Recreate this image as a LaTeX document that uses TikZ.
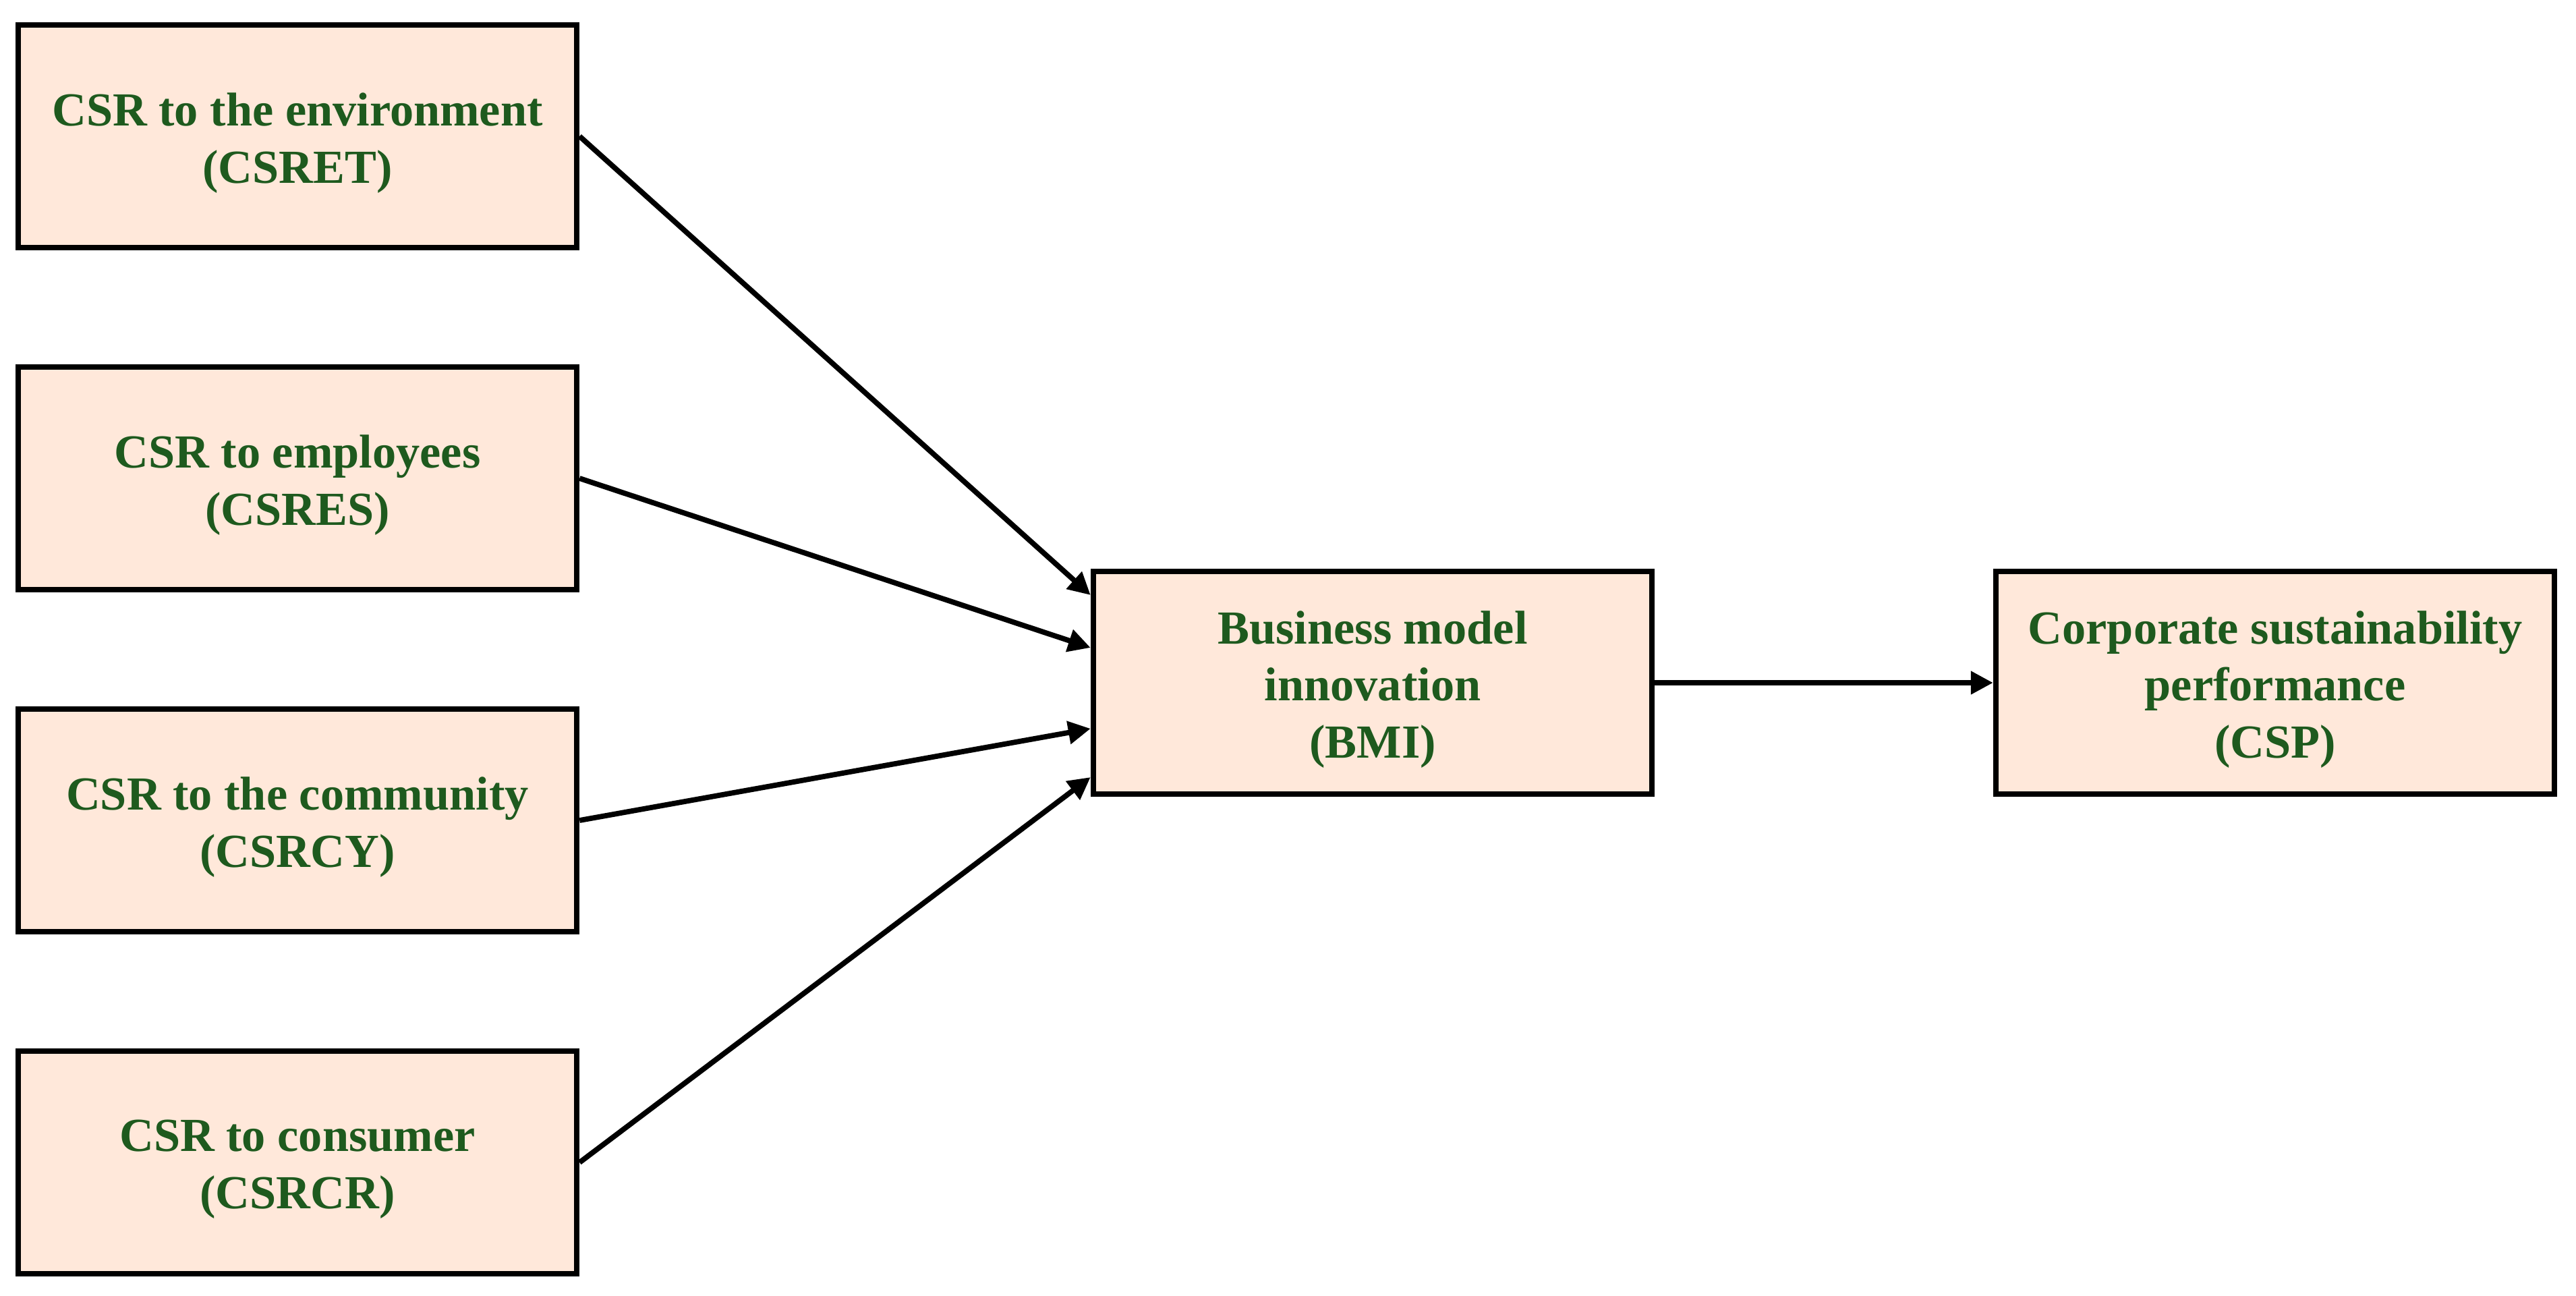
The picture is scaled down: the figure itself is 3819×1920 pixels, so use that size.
\documentclass[tikz,border=0pt]{standalone}
\usepackage{fontspec}
\setmainfont{Liberation Serif}
\usetikzlibrary{arrows.meta,calc}
\definecolor{boxfill}{RGB}{255,232,218}
\definecolor{txtgreen}{RGB}{30,90,30}
\begin{document}
\begin{tikzpicture}[x=0.01cm,y=-0.01cm,
  cbox/.style={draw=black,line width=0.08cm,fill=boxfill,minimum width=8.28cm,minimum height=3.3cm,inner sep=0pt},
  ctext/.style={align=center,text=txtgreen,font=\fontsize{20}{24}\selectfont\bfseries,inner sep=0pt},
  arr/.style={line width=0.078cm,-{Triangle[length=0.33cm,width=0.33cm]}}]
\useasboundingbox[fill=white] (0,0) rectangle (3819,1920);
\node[cbox] (ret) at (441,202) {};
\node[cbox] (res) at (441,709) {};
\node[cbox] (rcy) at (441,1216) {};
\node[cbox] (rcr) at (441,1723) {};
\node[cbox] (bmi) at (2035,1012) {};
\node[cbox] (csp) at (3373,1012) {};
\node[ctext] (retT) at ($(ret.center)+(0,10)$) {CSR to the environment\\(CSRET)};
\node[ctext] (resT) at ($(res.center)+(0,10)$) {CSR to employees\\(CSRES)};
\node[ctext] (rcyT) at ($(rcy.center)+(0,10)$) {CSR to the community\\(CSRCY)};
\node[ctext] (rcrT) at ($(rcr.center)+(0,10)$) {CSR to consumer\\(CSRCR)};
\node[ctext] (bmiT) at ($(bmi.center)+(0,10)$) {Business model\\innovation\\(BMI)};
\node[ctext] (cspT) at ($(csp.center)+(0,10)$) {Corporate sustainability\\performance\\(CSP)};
\draw[arr] (ret.east) -- ($(bmi.west)+(0,-130)$);
\draw[arr] (res.east) -- ($(bmi.west)+(0,-52)$);
\draw[arr] (rcy.east) -- ($(bmi.west)+(0,68)$);
\draw[arr] (rcr.east) -- ($(bmi.west)+(0,140)$);
\draw[arr] (bmi.east) -- (csp.west);
\end{tikzpicture}
\end{document}
